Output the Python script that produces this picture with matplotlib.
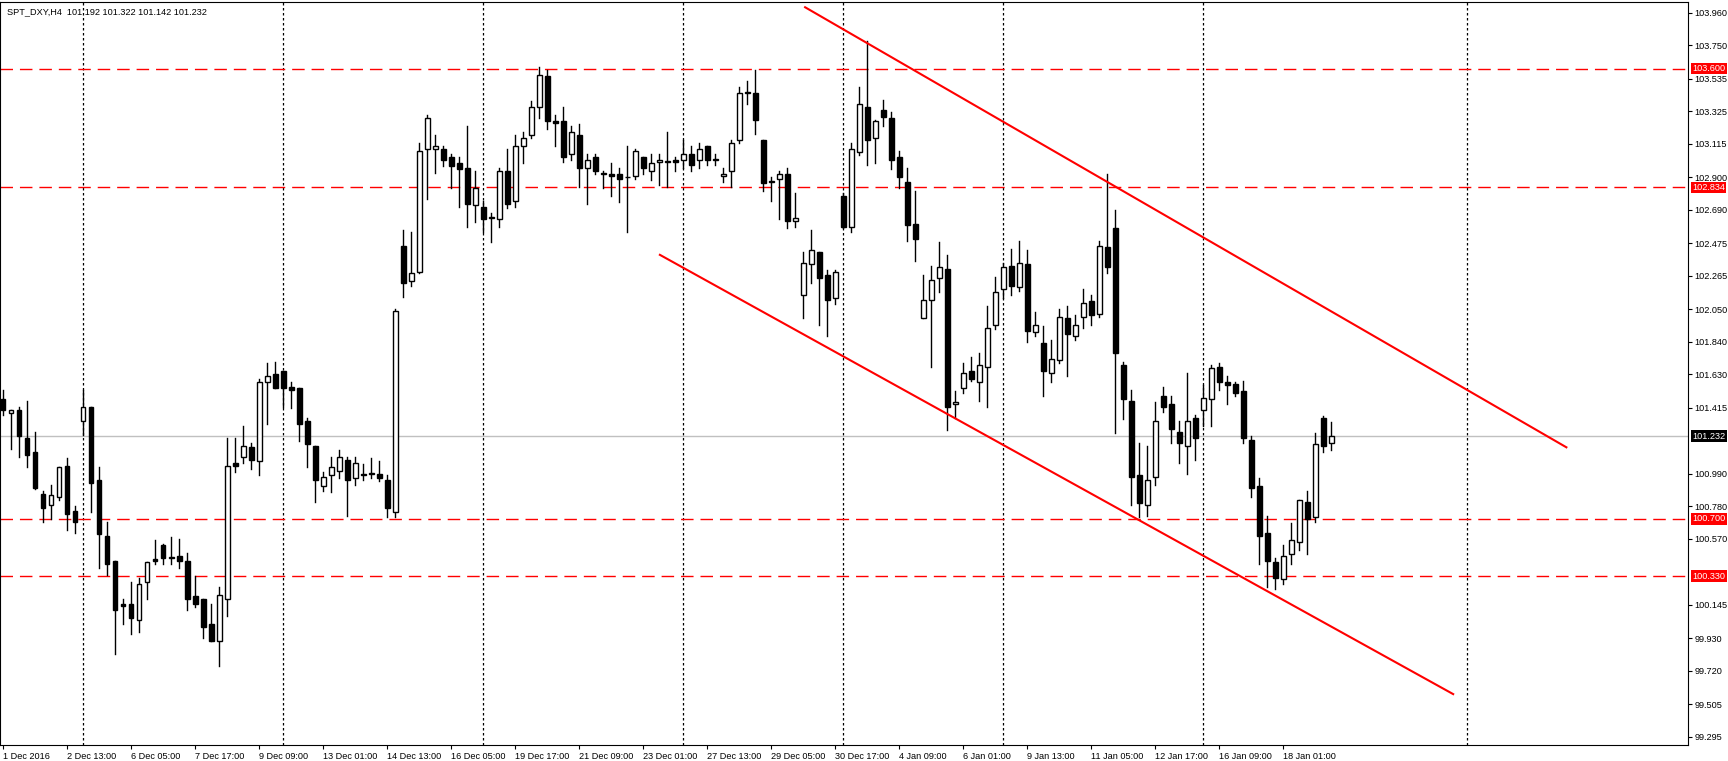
import matplotlib
matplotlib.use("Agg")
import matplotlib.pyplot as plt
from matplotlib.patches import Rectangle

plt.rcParams['font.family'] = ['Liberation Sans', 'DejaVu Sans']

opens = [101.47,101.38,101.40,101.22,101.13,100.86,100.79,100.84,101.04,100.75,
101.33,101.42,100.95,100.59,100.43,100.15,100.15,100.05,100.29,100.44,
100.53,100.45,100.46,100.43,100.20,100.18,100.02,99.91,100.18,101.06,
101.10,101.16,101.07,101.58,101.63,101.65,101.55,101.54,101.33,101.17,
100.91,100.98,101.01,101.08,100.96,100.99,100.99,100.99,100.95,100.74,
102.46,102.23,102.29,103.08,103.08,103.08,103.03,102.99,102.96,102.72,
102.71,102.64,102.63,102.94,102.75,103.10,103.17,103.35,103.55,103.26,
103.26,103.05,103.17,102.96,103.03,102.92,102.92,102.92,102.90,102.91,
103.03,102.94,103.00,103.00,103.01,103.01,103.05,103.01,103.10,103.02,
102.91,102.94,103.14,103.44,103.44,103.14,102.87,102.89,102.92,102.62,
102.14,102.34,102.42,102.27,102.12,102.78,102.58,103.06,103.35,103.15,
103.33,103.28,103.03,102.87,102.60,101.99,102.11,102.25,102.31,101.44,
101.54,101.65,101.58,101.68,101.95,102.18,102.33,102.19,102.34,101.90,
101.83,101.64,101.72,101.99,101.88,102.00,102.10,102.02,102.45,102.57,
101.69,101.46,100.98,100.79,100.97,101.49,101.44,101.26,101.17,101.35,
101.40,101.47,101.68,101.58,101.57,101.52,101.21,100.91,100.61,100.42,
100.31,100.47,100.55,100.81,100.71,101.35,101.19]
highs = [101.53,101.40,101.42,101.46,101.26,100.88,100.92,101.03,101.09,100.78,
101.53,101.42,101.03,100.68,100.43,100.18,100.29,100.32,100.42,100.56,
100.54,100.58,100.57,100.48,100.33,100.18,100.15,100.26,101.22,101.22,
101.30,101.19,101.60,101.70,101.71,101.65,101.58,101.54,101.35,101.17,
101.00,101.10,101.14,101.10,101.10,101.05,101.09,101.07,100.98,102.05,
102.56,102.55,103.12,103.30,103.17,103.10,103.05,103.03,103.23,102.94,
102.75,102.67,102.96,103.08,103.17,103.19,103.39,103.61,103.59,103.30,
103.35,103.23,103.24,103.05,103.05,102.94,102.99,102.96,103.10,103.08,
103.03,103.05,103.05,103.19,103.03,103.14,103.10,103.12,103.10,103.05,
102.96,103.14,103.48,103.52,103.59,103.14,102.90,102.94,102.96,102.80,
102.42,102.56,102.42,102.30,102.30,102.80,103.12,103.48,103.78,103.27,
103.40,103.32,103.07,102.96,102.81,102.27,102.33,102.48,102.40,101.52,
101.70,101.74,101.77,102.07,102.26,102.35,102.44,102.49,102.43,102.03,
101.94,101.85,102.05,102.07,102.01,102.18,102.14,102.49,102.92,102.69,
101.71,101.53,101.19,101.17,101.45,101.55,101.49,101.33,101.64,101.37,
101.56,101.69,101.70,101.62,101.58,101.59,101.23,100.96,100.72,100.45,
100.53,100.67,100.82,100.88,101.25,101.36,101.32]
lows = [101.37,101.15,101.10,101.03,100.89,100.68,100.70,100.82,100.63,100.61,
101.24,100.74,100.38,100.34,99.83,100.02,99.96,99.97,100.18,100.41,
100.41,100.41,100.38,100.11,100.13,99.93,99.91,99.75,100.07,101.00,
101.06,101.02,100.98,101.31,101.54,101.42,101.41,101.20,101.03,100.81,
100.88,100.87,100.96,100.72,100.92,100.95,100.96,100.94,100.71,100.71,
102.13,102.20,102.28,102.76,102.93,102.97,102.83,102.71,102.58,102.61,
102.55,102.48,102.58,102.70,102.71,102.99,103.15,103.28,103.21,103.10,
103.00,103.01,102.84,102.73,102.92,102.83,102.78,102.74,102.55,102.89,
102.92,102.88,102.85,102.84,102.94,102.96,102.94,102.96,102.98,102.98,
102.87,102.84,103.12,103.37,103.18,102.81,102.75,102.63,102.57,102.58,
101.99,102.22,101.95,101.88,102.08,102.57,102.55,103.04,102.98,102.99,
103.23,102.95,102.83,102.49,102.36,101.99,101.68,102.16,101.27,101.35,
101.51,101.59,101.46,101.42,101.92,102.12,102.14,102.17,101.84,101.88,
101.49,101.58,101.70,101.62,101.85,101.93,101.95,102.00,102.28,101.25,
101.34,100.79,100.71,100.72,100.92,101.39,101.19,101.06,100.99,101.08,
101.30,101.30,101.53,101.44,101.49,101.19,100.84,100.41,100.26,100.25,
100.28,100.41,100.50,100.47,100.68,101.13,101.14]
closes = [101.40,101.40,101.23,101.11,100.90,100.77,100.85,101.03,100.73,100.68,
101.42,100.93,100.60,100.41,100.11,100.14,100.06,100.28,100.42,100.43,
100.45,100.45,100.43,100.18,100.15,100.00,99.91,100.21,101.04,101.04,
101.17,101.08,101.58,101.62,101.54,101.54,101.53,101.31,101.18,100.95,
100.97,101.03,101.10,100.95,101.06,100.98,100.99,100.96,100.77,102.04,
102.22,102.28,103.07,103.28,103.10,103.01,102.97,102.95,102.73,102.83,
102.63,102.64,102.94,102.73,103.10,103.15,103.35,103.56,103.26,103.25,
103.03,103.19,102.96,103.01,102.94,102.92,102.91,102.89,102.90,103.07,
102.96,102.99,103.01,103.00,103.00,103.05,102.98,103.08,103.01,103.01,
102.92,103.12,103.44,103.45,103.27,102.86,102.87,102.92,102.62,102.64,
102.35,102.43,102.25,102.11,102.29,102.58,103.08,103.37,103.14,103.26,
103.29,103.01,102.90,102.59,102.50,102.11,102.24,102.32,101.42,101.45,
101.64,101.60,101.69,101.93,102.16,102.32,102.20,102.35,101.91,101.95,
101.65,101.73,102.00,101.89,101.95,102.09,102.01,102.46,102.32,101.77,
101.47,100.97,100.80,100.95,101.33,101.42,101.28,101.19,101.33,101.22,
101.48,101.67,101.58,101.56,101.51,101.22,100.90,100.59,100.43,100.32,
100.46,100.56,100.82,100.70,101.18,101.17,101.23]

tick_idx = list(range(0, 161, 8))
tick_labels = ["1 Dec 2016","2 Dec 13:00","6 Dec 05:00","7 Dec 17:00","9 Dec 09:00",
"13 Dec 01:00","14 Dec 13:00","16 Dec 05:00","19 Dec 17:00","21 Dec 09:00",
"23 Dec 01:00","27 Dec 13:00","29 Dec 05:00","30 Dec 17:00","4 Jan 09:00",
"6 Jan 01:00","9 Jan 13:00","11 Jan 05:00","12 Jan 17:00","16 Jan 09:00","18 Jan 01:00"]
sep_idx = [10, 35, 60, 85, 105, 125, 150, 183]
price_ticks = [103.960,103.750,103.535,103.325,103.115,102.900,102.690,102.475,102.265,
102.050,101.840,101.630,101.415,100.990,100.780,100.570,100.145,99.930,99.720,99.505,99.295]
levels = [103.600, 102.834, 100.700, 100.330]
last_price = 101.232
upper_line = [(100.25, 103.995), (195.4, 101.16)]
lower_line = [(82.1, 102.40), (181.25, 99.57)]

fig = plt.figure(figsize=(17.28, 7.61), dpi=100)
ax = fig.add_axes([0.0, 0.021, 1688/1728, 0.976])
ax.set_xlim(-0.375, 210.6)
ax.set_ylim(99.242, 104.027)

for x in sep_idx:
    ax.axvline(x, color="black", ls=(0, (2, 2)), lw=0.9, zorder=1)
for lv in levels:
    ax.axhline(lv, color="red", ls=(0, (9, 5)), lw=1.0, zorder=1)
ax.axhline(last_price, color="#c0c0c0", lw=1.0, zorder=1)

w = 0.62
for i, (o, h, l, c) in enumerate(zip(opens, highs, lows, closes)):
    ax.plot([i, i], [l, h], color="black", lw=1.0, zorder=3)
    bull = c >= o
    lo, hi = min(o, c), max(o, c)
    hgt = max(hi - lo, 0.004)
    ax.add_patch(Rectangle((i - w/2, lo), w, hgt, facecolor="white" if bull else "black",
                           edgecolor="black", lw=1.0, zorder=4))

for ln in (upper_line, lower_line):
    ax.plot([ln[0][0], ln[1][0]], [ln[0][1], ln[1][1]], color="red", lw=1.5, zorder=5)

fs = 6.6
ax.yaxis.tick_right()
ax.set_yticks(price_ticks)
ax.set_yticklabels([f"{p:.3f}" for p in price_ticks], fontsize=fs)
ax.set_xticks(tick_idx)
ax.set_xticklabels(tick_labels, fontsize=fs, ha="left")
ax.tick_params(axis="x", length=3, pad=2)
ax.tick_params(axis="y", length=3, pad=1.5)
for s in ax.spines.values():
    s.set_color("black")

tr = ax.get_yaxis_transform()
for lv in levels:
    ax.text(1.0025, lv, f"{lv:.3f}", transform=tr, fontsize=fs, color="white", va="center",
            ha="left", bbox=dict(facecolor="red", edgecolor="none", pad=1.0), clip_on=False, zorder=10)
ax.text(1.0025, last_price, f"{last_price:.3f}", transform=tr, fontsize=fs, color="white",
        va="center", ha="left", bbox=dict(facecolor="black", edgecolor="none", pad=1.0),
        clip_on=False, zorder=10)

ax.text(0.004, 0.993, "SPT_DXY,H4  101.192 101.322 101.142 101.232", transform=ax.transAxes,
        fontsize=fs, va="top", ha="left")

fig.savefig("out.png", dpi=100)
